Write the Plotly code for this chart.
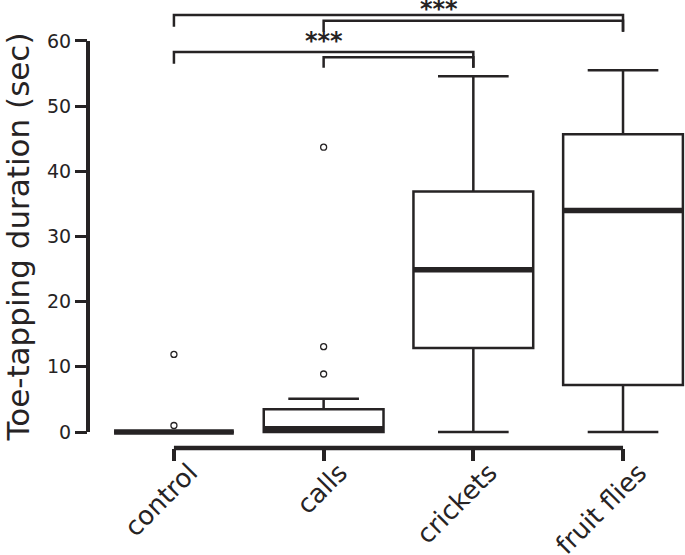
import plotly.graph_objects as go

# ---- data ----
categories = ["control", "calls", "crickets", "fruit flies"]
lower_whisker = [0.0, 0.0, 0.0, 0.0]
q1_values = [0.0, 0.0, 12.9, 7.2]
median_values = [0.0, 0.5, 24.9, 34.0]
q3_values = [0.0, 3.5, 36.9, 45.7]
upper_whisker = [0.0, 5.1, 54.6, 55.5]
outliers = {
    "control": [1.0, 11.9],
    "calls": [8.9, 13.1, 43.7],
    "crickets": [],
    "fruit flies": [],
}
y_tick_values = [0, 10, 20, 30, 40, 50, 60]

# significance comparisons: (from, to)
comparisons_low = [("control", "crickets"), ("calls", "crickets")]
comparisons_high = [("control", "fruit flies"), ("calls", "fruit flies")]
sig_label = "***"

# ---- style ----
INK = "#262324"
FONT = "DejaVu Sans"
BOX_W = 0.8

pos = {c: i for i, c in enumerate(categories)}

fig = go.Figure()

for i, c in enumerate(categories):
    fig.add_trace(go.Box(
        x=[i], q1=[q1_values[i]], median=[median_values[i]], q3=[q3_values[i]],
        lowerfence=[lower_whisker[i]], upperfence=[upper_whisker[i]],
        width=BOX_W, whiskerwidth=0.59, boxpoints=False,
        fillcolor="white", line=dict(color=INK, width=2.5),
        showlegend=False, hoverinfo="skip",
    ))
    # thick median bar
    fig.add_trace(go.Scatter(
        x=[i - BOX_W / 2, i + BOX_W / 2], y=[median_values[i], median_values[i]],
        mode="lines", line=dict(color=INK, width=5.5),
        showlegend=False, hoverinfo="skip",
    ))
    if outliers[c]:
        fig.add_trace(go.Scatter(
            x=[i] * len(outliers[c]), y=outliers[c], mode="markers",
            marker=dict(symbol="circle-open", size=6, color=INK, line=dict(width=1.3)),
            showlegend=False, hoverinfo="skip",
        ))

shapes = []
# custom axis lines
shapes.append(dict(type="line", xref="paper", yref="y", x0=0, x1=0,
                   y0=y_tick_values[0], y1=y_tick_values[-1],
                   line=dict(color=INK, width=4)))
shapes.append(dict(type="line", xref="x", yref="paper", x0=0, x1=len(categories) - 1,
                   y0=0, y1=0, line=dict(color=INK, width=4.5)))


def bracket(a, b, y_top, y_left_end, y_right_end):
    xa, xb = pos[a], pos[b]
    pts = [(xa, y_left_end), (xa, y_top), (xb, y_top), (xb, y_right_end)]
    path = "M " + " L ".join(f"{x},{y}" for x, y in pts)
    return dict(type="path", path=path, xref="x", yref="y",
                line=dict(color=INK, width=2.5))


# lower pair of brackets
shapes.append(bracket(*comparisons_low[0], 58.3, 56.5, 55.9))
shapes.append(bracket(*comparisons_low[1], 57.5, 55.9, 55.9))
# upper pair of brackets
shapes.append(bracket(*comparisons_high[0], 64.0, 62.2, 61.4))
shapes.append(bracket(*comparisons_high[1], 63.1, 61.4, 61.4))

annotations = [
    dict(x=1.0, y=60.0, xref="x", yref="y", text="<b>" + sig_label + "</b>", showarrow=False,
         font=dict(family=FONT, size=24, color=INK), xanchor="center", yanchor="middle"),
    dict(x=1.77, y=64.85, xref="x", yref="y", text="<b>" + sig_label + "</b>", showarrow=False,
         font=dict(family=FONT, size=24, color=INK), xanchor="center", yanchor="middle"),
    dict(x=0, y=0.47, xref="paper", yref="paper", xshift=-70,
         text="Toe-tapping duration (sec)", textangle=-90, showarrow=False,
         font=dict(family=FONT, size=31, color=INK), xanchor="center", yanchor="middle"),
]

fig.update_layout(
    width=685, height=555,
    margin=dict(l=88, r=0, t=0, b=107, autoexpand=False),
    paper_bgcolor="white", plot_bgcolor="white",
    shapes=shapes, annotations=annotations,
    showlegend=False,
    font=dict(family=FONT, color=INK),
)
fig.update_xaxes(
    range=[-0.574, 3.414], tickvals=list(range(len(categories))), ticktext=categories,
    tickangle=-45, ticks="outside", ticklen=12, tickwidth=3.5, tickcolor=INK,
    showline=False, showgrid=False, zeroline=False, automargin=False,
    ticklabelshift=16, ticklabelstandoff=-14,
    tickfont=dict(family=FONT, size=26, color=INK),
)
fig.update_yaxes(
    range=[-2.455, 66.29], tickvals=y_tick_values,
    ticks="outside", ticklen=12, tickwidth=3, tickcolor=INK,
    showline=False, showgrid=False, zeroline=False, automargin=False,
    tickfont=dict(family=FONT, size=19, color=INK),
)

fig.write_html("out.html", config={"displayModeBar": False},
               post_script="document.body.style.margin='0px';")
